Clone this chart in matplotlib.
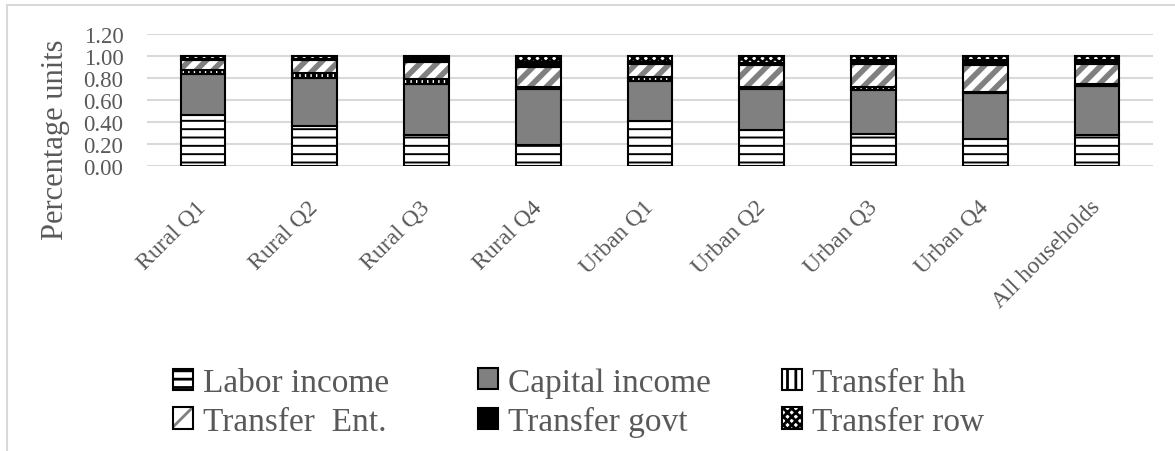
import numpy as np
import matplotlib
matplotlib.use("Agg")
import matplotlib.pyplot as plt
from matplotlib.patches import Patch, Rectangle

plt.rcParams['font.family'] = ['Liberation Serif', 'DejaVu Serif']
plt.rcParams['hatch.linewidth'] = 2.0

cats = ["Rural Q1", "Rural Q2", "Rural Q3", "Rural Q4", "Urban Q1",
        "Urban Q2", "Urban Q3", "Urban Q4", "All households"]
labor = [0.46, 0.36, 0.28, 0.19, 0.41, 0.33, 0.29, 0.25, 0.28]
capital = [0.38, 0.44, 0.47, 0.51, 0.36, 0.37, 0.40, 0.41, 0.45]
tr_hh = [0.03, 0.05, 0.04, 0.02, 0.04, 0.02, 0.03, 0.01, 0.02]
tr_ent = [0.09, 0.11, 0.16, 0.18, 0.12, 0.20, 0.21, 0.25, 0.18]
tr_govt = [0.01, 0.01, 0.03, 0.05, 0.02, 0.02, 0.03, 0.04, 0.03]
tr_row = [0.03, 0.03, 0.02, 0.05, 0.05, 0.06, 0.04, 0.04, 0.04]

W, H = 1175, 452
txt = '#595959'
grid = '#d9d9d9'

fig = plt.figure(figsize=(W / 100, H / 100), dpi=100)
ax = fig.add_axes([147 / W, 1 - 167 / H, (1153 - 147) / W, (167 - 35) / H])

x = np.arange(len(cats))
bw = 0.40
lw = 1.5
bottom = np.zeros(len(cats))

with plt.rc_context({'hatch.linewidth': 1.4}):
    ax.bar(x, labor, bw, bottom=bottom, facecolor='white', edgecolor='black',
           hatch='--', linewidth=lw, zorder=3)
bottom += labor
ax.bar(x, capital, bw, bottom=bottom, facecolor='#808080', edgecolor='black',
       linewidth=lw, zorder=3)
bottom += capital
with plt.rc_context({'hatch.linewidth': 3.0}):
    ax.bar(x, tr_hh, bw, bottom=bottom, facecolor='white', edgecolor='black',
           hatch='|||', linewidth=lw, zorder=3)
bottom += tr_hh
with plt.rc_context({'hatch.linewidth': 4.0}):
    ax.bar(x, tr_ent, bw, bottom=bottom, facecolor='white', edgecolor='#808080',
           hatch='//', linewidth=0, zorder=3)
ax.bar(x, tr_ent, bw, bottom=bottom, fill=False, edgecolor='black',
       linewidth=lw, zorder=4)
bottom += tr_ent
ax.bar(x, tr_govt, bw, bottom=bottom, facecolor='black', edgecolor='black',
       linewidth=lw, zorder=3)
bottom += tr_govt
ax.bar(x, tr_row, bw, bottom=bottom, facecolor='white', edgecolor='black',
       hatch='xxxx', linewidth=lw, zorder=3)

ax.set_xlim(-0.5, len(cats) - 0.5)
ax.set_ylim(0, 1.2)
ax.set_yticks(np.arange(0, 1.21, 0.2))
ax.set_yticklabels(["%.2f" % v for v in np.arange(0, 1.21, 0.2)])
ax.yaxis.grid(True, color=grid, linewidth=1.5, zorder=0)
ax.set_axisbelow(True)
for s in ax.spines.values():
    s.set_visible(False)
ax.tick_params(axis='y', length=0, pad=17, labelsize=16.5, labelcolor=txt)
ax.tick_params(axis='x', length=0, pad=27, labelsize=17, labelcolor=txt)
ax.set_xticks(x)
ax.set_xticklabels(cats, rotation=45, ha='right', va='center',
                   rotation_mode='anchor')

fig.text(56 / W, 1 - 140 / H, "Percentage units", rotation=90,
         ha='center', va='center', fontsize=22, color=txt)

# chart area border
fig.patches.append(Rectangle((7 / W, -0.1), 1.2, 1.1 - 6 / H,
                             transform=fig.transFigure, fill=False,
                             edgecolor=grid, linewidth=1.5))

# legend, three columns
h_labor = Patch(facecolor='white', edgecolor='black', hatch='--', linewidth=1.5)
h_cap = Patch(facecolor='#808080', edgecolor='black', linewidth=1.5)
h_hh = Patch(facecolor='white', edgecolor='black', hatch='||', linewidth=1.5)
h_ent = (Patch(facecolor='white', edgecolor='#808080', hatch='/', linewidth=0),
         Patch(fill=False, edgecolor='black', linewidth=1.5))
h_govt = Patch(facecolor='black', edgecolor='black', linewidth=1.5)
h_row = Patch(facecolor='white', edgecolor='black', hatch='xxxx', linewidth=1.5)

cols = [([h_labor, h_ent], ["Labor income", "Transfer  Ent."], 173),
        ([h_cap, h_govt], ["Capital income", "Transfer govt"], 478),
        ([h_hh, h_row], ["Transfer hh", "Transfer row"], 782)]
for hs, ls, xp in cols:
    leg = fig.legend(hs, ls, loc='center left', bbox_to_anchor=(xp / W, 1 - 403 / H),
                     frameon=False, fontsize=24, handlelength=0.6, handleheight=0.6,
                     handletextpad=0.3, labelspacing=0.25, borderpad=0, borderaxespad=0)
    for t in leg.get_texts():
        t.set_color(txt)

fig.savefig("out.png", dpi=100)
